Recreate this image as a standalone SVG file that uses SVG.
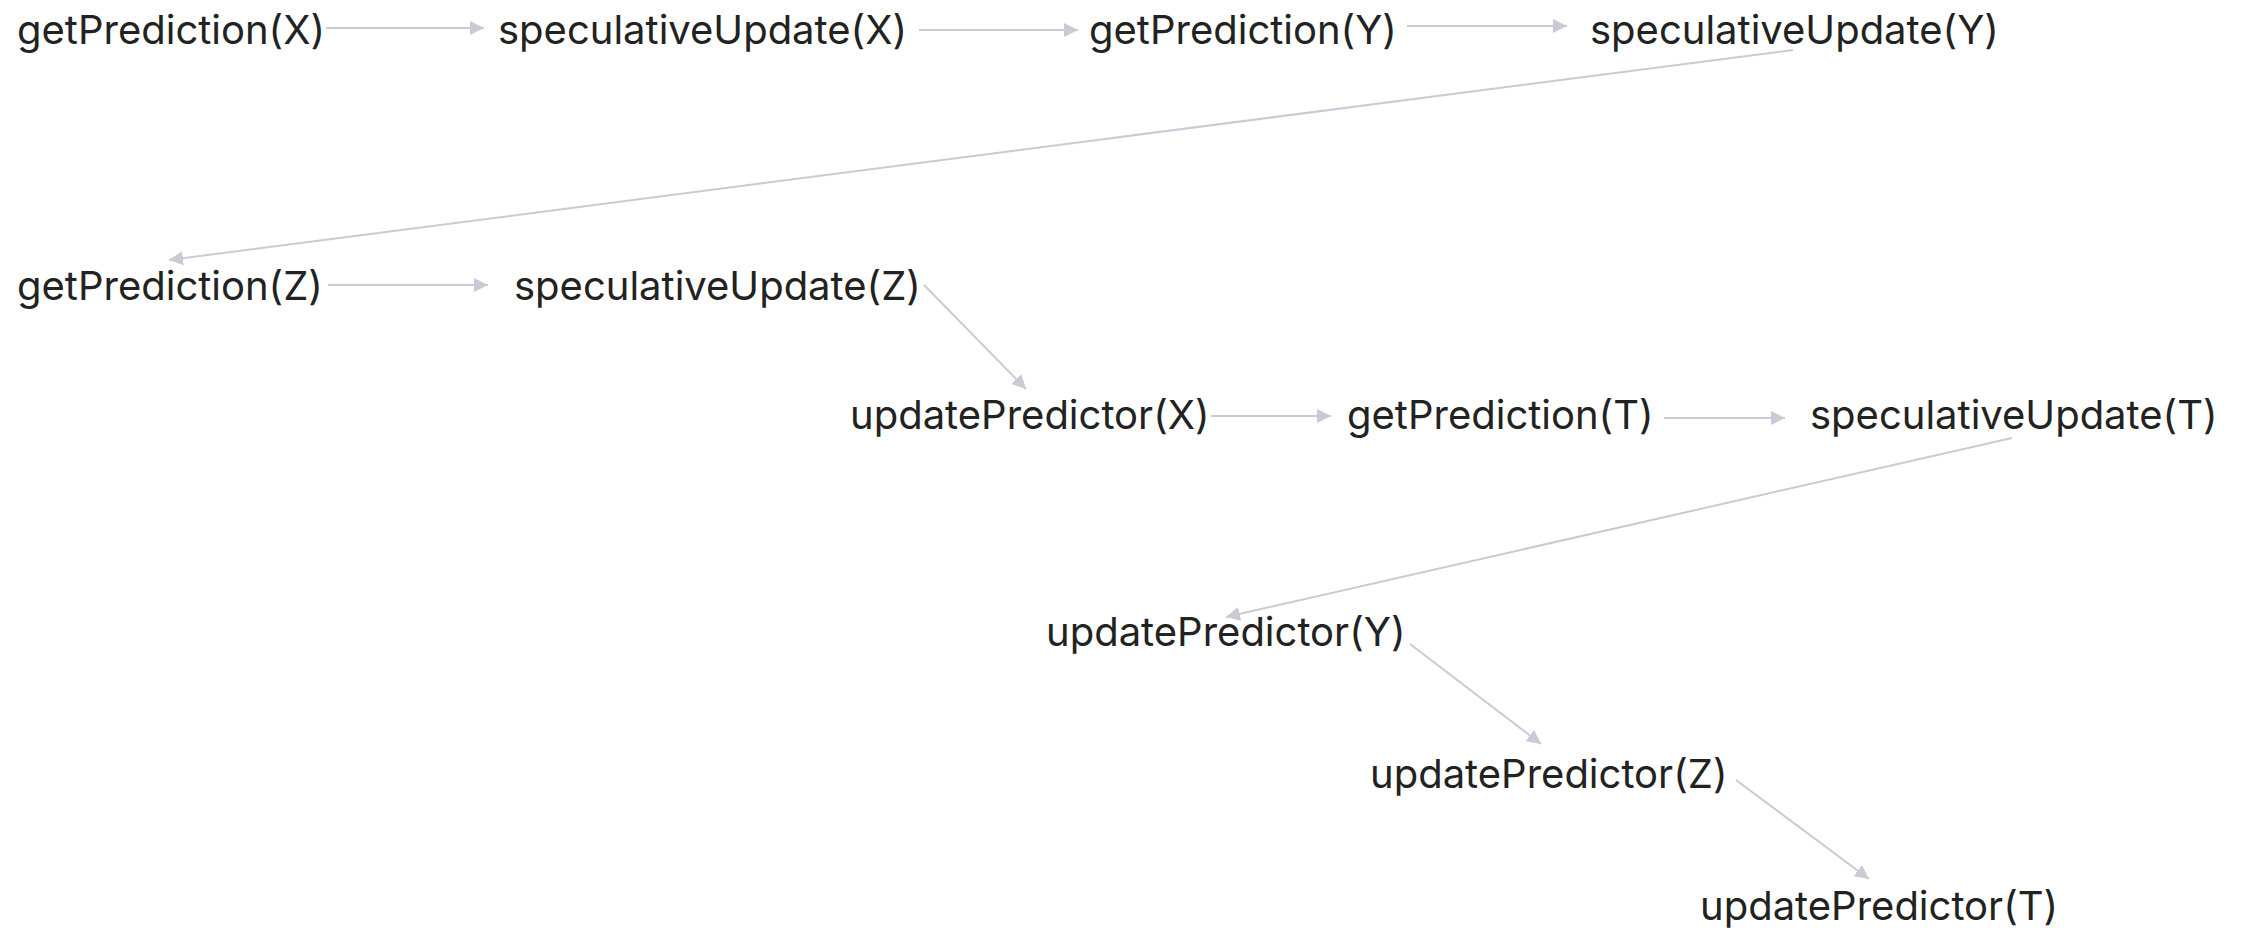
<svg xmlns="http://www.w3.org/2000/svg" width="2244" height="932" viewBox="0 0 2244 932">
<style>
text{font-family:Inter,"Liberation Sans",sans-serif;font-size:40px;fill:#222}
.e line{stroke:#c9cad6;stroke-width:2;fill:none}
</style>
<defs>
<marker id="a" viewBox="0 0 10 10" refX="10" refY="5" markerWidth="14" markerHeight="14" orient="auto" markerUnits="userSpaceOnUse">
<path d="M0,0L10,5L0,10z" fill="#c9cad6"/>
</marker>
</defs>
<rect width="2244" height="932" fill="#fff"/>
<g class="e" id="connectors">
<line x1="326" y1="28" x2="484" y2="28" marker-end="url(#a)"/>
<line x1="919" y1="30" x2="1078" y2="30" marker-end="url(#a)"/>
<line x1="1407" y1="26" x2="1567" y2="26" marker-end="url(#a)"/>
<line x1="1793" y1="50" x2="169" y2="260" marker-end="url(#a)"/>
<line x1="328" y1="285" x2="488" y2="285" marker-end="url(#a)"/>
<line x1="924" y1="285" x2="1026" y2="389" marker-end="url(#a)"/>
<line x1="1211" y1="416" x2="1331" y2="416" marker-end="url(#a)"/>
<line x1="1664" y1="418" x2="1785" y2="418" marker-end="url(#a)"/>
<line x1="2012" y1="438" x2="1226" y2="617" marker-end="url(#a)"/>
<line x1="1410" y1="644" x2="1541" y2="744" marker-end="url(#a)"/>
<line x1="1736" y1="780" x2="1869" y2="879" marker-end="url(#a)"/>
</g>
<g id="n1"><text x="17" y="44">getPrediction(X)</text></g>
<g id="n2"><text x="498" y="44">speculativeUpdate(X)</text></g>
<g id="n3"><text x="1089" y="44">getPrediction(Y)</text></g>
<g id="n4"><text x="1590" y="44">speculativeUpdate(Y)</text></g>
<g id="n5"><text x="17" y="300">getPrediction(Z)</text></g>
<g id="n6"><text x="514" y="300">speculativeUpdate(Z)</text></g>
<g id="n7"><text x="850" y="429">updatePredictor(X)</text></g>
<g id="n8"><text x="1347" y="429">getPrediction(T)</text></g>
<g id="n9"><text x="1810" y="429">speculativeUpdate(T)</text></g>
<g id="n10"><text x="1046" y="646">updatePredictor(Y)</text></g>
<g id="n11"><text x="1370" y="788">updatePredictor(Z)</text></g>
<g id="n12"><text x="1700" y="920">updatePredictor(T)</text></g>
</svg>
